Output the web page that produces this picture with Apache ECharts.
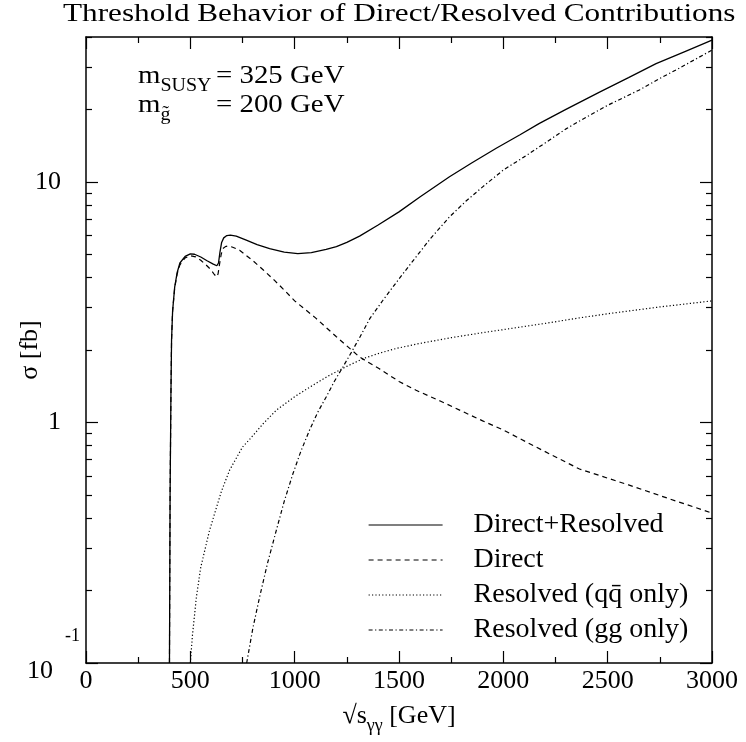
<!DOCTYPE html>
<html>
<head>
<meta charset="utf-8">
<script src="https://cdn.jsdelivr.net/npm/echarts@6/dist/echarts.min.js"></script>
<style>
  html, body { margin: 0; padding: 0; background: #fff; }
  #chart { width: 746px; height: 742px; }
</style>
</head>
<body>
<div id="chart"></div>
<script>
// values (x in GeV, y in fb)
const totalX = [400, 403, 407, 410, 415, 425, 437, 450, 475, 500, 520, 550, 580, 610, 627, 635, 642, 650, 660, 675, 692, 720, 768, 820, 880, 950, 1015, 1080, 1151, 1200, 1250, 1311, 1400, 1500, 1600, 1742, 1850, 1966, 2080, 2173, 2300, 2461, 2600, 2732, 2870, 3000]
const totalY = [0.1, 0.5, 1.3, 2.2, 2.9, 3.65, 4.2, 4.6, 4.9, 5.02, 5.0, 4.87, 4.7, 4.55, 4.48, 4.6, 5.1, 5.6, 5.85, 5.98, 6.0, 5.95, 5.72, 5.48, 5.28, 5.1, 5.03, 5.08, 5.24, 5.38, 5.6, 5.95, 6.62, 7.5, 8.65, 10.5, 12.0, 13.8, 15.7, 17.5, 20.0, 23.6, 27.1, 31.0, 34.8, 38.8]

const directX = [400, 403, 407, 410, 415, 425, 437, 450, 475, 500, 525, 550, 575, 600, 615, 627, 633, 640, 648, 656, 668, 680, 700, 736, 800, 850, 900, 950, 1000, 1100, 1200, 1311, 1406, 1500, 1582, 1700, 1800, 1901, 2000, 2157, 2365, 2600, 2800, 3000]
const directY = [0.1, 0.5, 1.3, 2.2, 2.9, 3.62, 4.15, 4.52, 4.83, 4.93, 4.88, 4.72, 4.52, 4.3, 4.12, 4.03, 4.15, 4.55, 5.0, 5.28, 5.38, 5.41, 5.36, 5.2, 4.7, 4.3, 3.92, 3.55, 3.2, 2.72, 2.27, 1.87, 1.67, 1.48, 1.36, 1.225, 1.115, 1.015, 0.93, 0.79, 0.64, 0.55, 0.48, 0.42]

const qqX = [500, 510, 529, 550, 592, 650, 688, 750, 784, 850, 912, 1000, 1100, 1167, 1250, 1327, 1406, 1487, 1600, 1750, 1886, 2000, 2200, 2365, 2500, 2750, 3000]
const qqY = [0.1, 0.13, 0.188, 0.25, 0.356, 0.52, 0.633, 0.79, 0.85, 0.99, 1.124, 1.28, 1.45, 1.57, 1.71, 1.84, 1.94, 2.03, 2.13, 2.25, 2.35, 2.43, 2.58, 2.72, 2.83, 3.02, 3.2]

const ggX = [770, 800, 832, 870, 912, 950, 992, 1030, 1071, 1110, 1151, 1190, 1231, 1271, 1311, 1360, 1423, 1500, 1582, 1650, 1742, 1820, 1901, 2000, 2100, 2200, 2300, 2413, 2500, 2652, 2750, 2844, 3000]
const ggY = [0.1, 0.14, 0.188, 0.26, 0.356, 0.47, 0.613, 0.76, 0.928, 1.1, 1.276, 1.48, 1.7, 1.95, 2.25, 2.7, 3.22, 3.95, 4.88, 5.8, 7.15, 8.3, 9.53, 11.2, 12.7, 14.5, 16.6, 18.9, 20.8, 24.1, 26.9, 29.7, 35.3]

const yMajor = [0.1, 1, 10]
const yMinor = [0.2, 0.3, 0.4, 0.5, 0.6, 0.7, 0.8, 0.9, 2, 3, 4, 5, 6, 7, 8, 9, 20, 30, 40]

const FONT = 'Liberation Serif'
const zip = (xs, ys) => xs.map((x, i) => [x, ys[i]])

const chart = echarts.init(document.getElementById('chart'))

const axisLine = { show: true, lineStyle: { color: '#000', width: 1.5 } }
const tickStyle = { color: '#000', width: 1.2 }

function xAxisOf(pos, labels) {
  return {
    type: 'value', position: pos, min: 0, max: 3000, interval: 500,
    nameMoveOverlap: false,
    axisLine: axisLine,
    axisTick: { inside: true, length: 12, lineStyle: tickStyle },
    minorTick: { show: true, splitNumber: 2, length: 6, lineStyle: tickStyle },
    splitLine: { show: false },
    minorSplitLine: { show: false },
    axisLabel: {
      show: labels, color: '#000', fontFamily: FONT, fontSize: 26, margin: 5,
      formatter: v => String(v)
    }
  }
}

function yAxisOf(pos, major, labels) {
  return {
    type: 'log', logBase: 10, position: pos, min: 0.1, max: 40,
    nameMoveOverlap: false,
    axisLine: major ? axisLine : { show: false },
    axisTick: {
      inside: true, length: major ? 12 : 6, lineStyle: tickStyle,
      customValues: major ? yMajor : yMinor
    },
    splitLine: { show: false },
    axisLabel: labels ? {
      show: true, margin: 6, color: '#000', fontFamily: FONT,
      customValues: yMajor,
      formatter: v => v < 0.5 ? '{b|10}{s|-1}' : '{n|' + Math.round(v) + '}',
      rich: {
        n: { fontSize: 26, fontFamily: FONT, color: '#000', padding: [0, 19, 0, 0] },
        b: { fontSize: 26, fontFamily: FONT, color: '#000', verticalAlign: 'bottom', padding: [0, 0, 15, 0] },
        s: { fontSize: 18, fontFamily: FONT, color: '#000', verticalAlign: 'top', padding: [0, 0, 54, 12] }
      }
    } : { show: false }
  }
}

const option = {
  animation: false,
  grid: { left: 86, right: 34, top: 37, bottom: 79, outerBoundsMode: 'none', containLabel: false },
  legend: {
    orient: 'vertical', left: 368, top: 511, itemGap: 7, padding: 0,
    itemWidth: 74, itemHeight: 14,
    lineStyle: { width: 1.2 },
    itemStyle: { opacity: 0 },
    textStyle: { fontFamily: FONT, fontSize: 28, lineHeight: 26, color: '#000', padding: [0, 0, 0, 26] },
    data: ['Direct+Resolved', 'Direct', 'Resolved (qq\u0304 only)', 'Resolved (gg only)']
  },
  xAxis: [
    Object.assign(xAxisOf('bottom', true), {
      name: '{a|\u221As}{g|\u03B3\u03B3}{a| [GeV]}',
      nameLocation: 'middle', nameGap: 40,
      nameTextStyle: {
        rich: {
          a: { fontFamily: FONT, fontSize: 26, color: '#000', verticalAlign: 'top', padding: [0, 0, 6, 0] },
          g: { fontFamily: FONT, fontSize: 18, color: '#000', verticalAlign: 'bottom' }
        }
      }
    }),
    xAxisOf('top', false)
  ],
  yAxis: [
    Object.assign(yAxisOf('left', true, true), {
      name: '\u03C3 [fb]', nameLocation: 'middle', nameGap: 43, nameRotate: 90,
      nameTextStyle: { fontFamily: FONT, fontSize: 26, color: '#000' }
    }),
    yAxisOf('left', false, false),
    yAxisOf('right', true, false),
    yAxisOf('right', false, false)
  ],
  graphic: [
    {
      type: 'text', x: 63, y: 1, scaleX: 1.2,
      style: {
        text: 'Threshold Behavior of Direct/Resolved Contributions',
        fontFamily: FONT, fontSize: 26, fill: '#000'
      }
    },
    {
      type: 'text', x: 138, y: 63, scaleX: 1.11,
      style: {
        text: '{m|m}{s|SUSY}', rich: {
          m: { fontFamily: FONT, fontSize: 26, fill: '#000', verticalAlign: 'top', padding: [0, 0, 6, 0] },
          s: { fontFamily: FONT, fontSize: 18, fill: '#000', verticalAlign: 'bottom' }
        }
      }
    },
    { type: 'text', x: 216, y: 63, scaleX: 1.11, style: { text: '= 325 GeV', fontFamily: FONT, fontSize: 26, fill: '#000' } },
    {
      type: 'text', x: 138, y: 92, scaleX: 1.11,
      style: {
        text: '{m|m}{s|g\u0303}', rich: {
          m: { fontFamily: FONT, fontSize: 26, fill: '#000', verticalAlign: 'top', padding: [0, 0, 6, 0] },
          s: { fontFamily: FONT, fontSize: 18, fill: '#000', verticalAlign: 'bottom' }
        }
      }
    },
    { type: 'text', x: 216, y: 92, scaleX: 1.11, style: { text: '= 200 GeV', fontFamily: FONT, fontSize: 26, fill: '#000' } }
  ],
  series: [
    {
      name: 'Direct+Resolved', type: 'line', data: zip(totalX, totalY), symbol: 'none',
      lineStyle: { color: '#000', width: 1.3, type: 'solid' }, itemStyle: { color: '#000' }
    },
    {
      name: 'Direct', type: 'line', data: zip(directX, directY), symbol: 'none',
      lineStyle: { color: '#000', width: 1.2, type: [5, 4] }, itemStyle: { color: '#000' }
    },
    {
      name: 'Resolved (qq\u0304 only)', type: 'line', data: zip(qqX, qqY), symbol: 'none',
      lineStyle: { color: '#000', width: 1.2, type: [1.2, 2.2] }, itemStyle: { color: '#000' }
    },
    {
      name: 'Resolved (gg only)', type: 'line', data: zip(ggX, ggY), symbol: 'none',
      lineStyle: { color: '#000', width: 1.2, type: [4, 2.5, 1.2, 2.5] }, itemStyle: { color: '#000' }
    }
  ]
}

chart.setOption(option)
</script>
</body>
</html>
